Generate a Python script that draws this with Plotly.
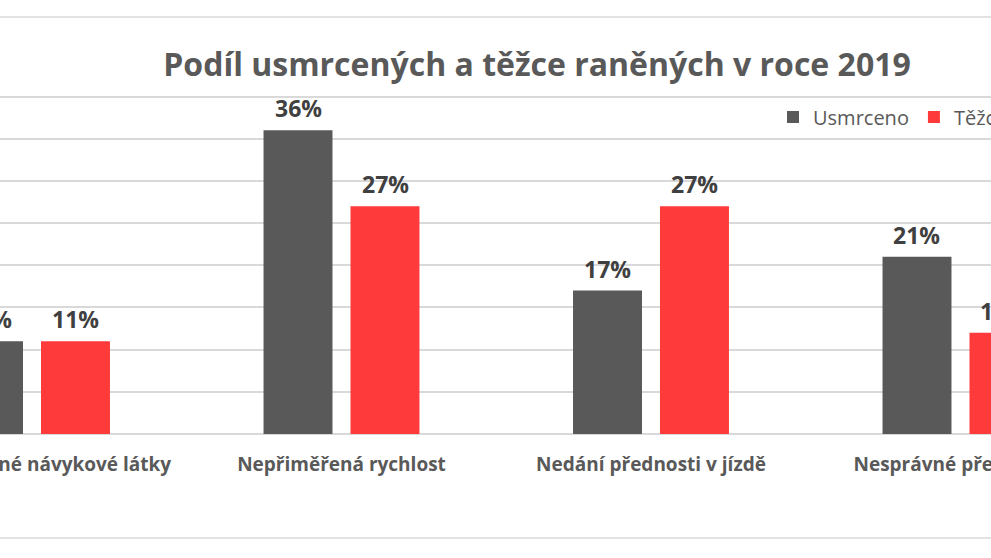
import plotly.graph_objects as go

categories = ["Alkohol a jiné návykové látky", "Nepřiměřená rychlost",
              "Nedání přednosti v jízdě", "Nesprávné předjíždění"]
usmrceno = [11, 36, 17, 21]
tezce = [11, 27, 27, 12]
series_names = ["Usmrceno", "Těžce zraněno"]
title_text = "Podíl usmrcených a těžce raněných v roce 2019"

GRAY = "#595959"
RED = "#FF3A3A"
LABEL = "#404040"
FONT = "Open Sans"

W, H = 991, 558
ML, MR, MT, MB = 0, 0, 94, 124
YMAX = 40.3

fig = go.Figure()
fig.add_trace(go.Bar(x=categories, y=usmrceno, name=series_names[0],
                     marker=dict(color=GRAY, line=dict(width=0))))
fig.add_trace(go.Bar(x=categories, y=tezce, name=series_names[1],
                     marker=dict(color=RED, line=dict(width=0))))

# data labels above bars
slot_px = 87
for vals, sh in ((usmrceno, -slot_px / 2), (tezce, slot_px / 2)):
    for c, v in zip(categories, vals):
        fig.add_annotation(x=c, y=v, xref="x", yref="y", text=f"{v}%",
                           showarrow=False, xshift=sh, yshift=22,
                           font=dict(family=FONT, size=23, color=LABEL, weight="bold"))

fig.update_layout(
    width=W, height=H,
    margin=dict(l=ML, r=MR, t=MT, b=MB, autoexpand=False),
    paper_bgcolor="white", plot_bgcolor="white",
    barmode="group", bargap=0.438, bargroupgap=0.207,
    title=dict(text=title_text, x=537 / W, xanchor="center", xref="paper",
               y=1 - 65 / H, yanchor="middle", yref="container",
               font=dict(family=FONT, size=32, color=GRAY, weight="bold")),
    legend=dict(orientation="h", x=773 / W, xanchor="left",
                y=(H - MB - 117) / (H - MT - MB), yanchor="middle",
                font=dict(family=FONT, size=20, color=GRAY), bgcolor="rgba(0,0,0,0)",
                traceorder="normal"),
    showlegend=True,
)
fig.update_xaxes(type="category", range=[-0.1034, 3.0986], showgrid=False,
                 showline=False, zeroline=False,
                 ticks="outside", ticklen=13, tickcolor="rgba(0,0,0,0)",
                 tickfont=dict(family=FONT, size=19, color=GRAY, weight="bold"))
fig.update_yaxes(range=[0, YMAX], tickvals=[0, 5, 10, 15, 20, 25, 30, 35, 40],
                 showgrid=True, gridcolor="#D9D9D9", gridwidth=1.5,
                 zeroline=True, zerolinecolor="#D9D9D9", zerolinewidth=1.5,
                 showticklabels=False, showline=False)

# chart frame lines (top and bottom border of the chart area)
for py in (17, 538):
    yp = (H - MB - py) / (H - MT - MB)
    fig.add_shape(type="line", xref="paper", yref="paper", x0=0, x1=1, y0=yp, y1=yp,
                  line=dict(color="#D9D9D9", width=1.5), layer="below")

fig.write_html("out.html", config={"displayModeBar": False},
               post_script="document.body.style.margin='0';document.body.style.overflow='hidden';")
